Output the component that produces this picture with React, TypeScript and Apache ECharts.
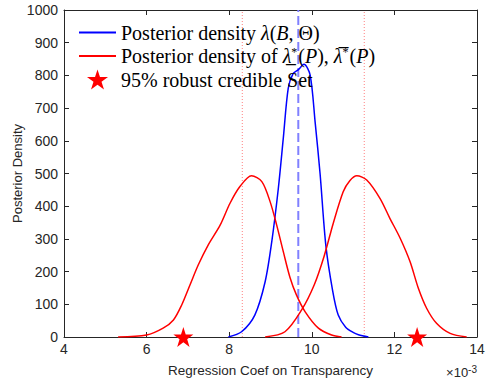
import React, { useEffect, useRef } from "react";
import * as echarts from "echarts";

const blueName = "Posterior density λ(B, Θ)";
const redName = "Posterior density of λ*(P), λ*(P)";
const starName = "95% robust credible Set";

const xBlue = [7.98, 8.3, 8.62, 8.87, 9.03, 9.19, 9.31, 9.43, 9.55, 9.67, 9.81, 9.96, 10.08, 10.2, 10.34, 10.5, 10.64, 10.82, 11.0, 11.13, 11.37];
const yBlue = [0, 16, 67, 169, 291, 455, 608, 761, 806, 817, 834, 801, 658, 500, 280, 145, 67, 30, 14, 7, 0];

const xLeft = [5.31, 6.0, 6.4, 6.65, 6.85, 7.05, 7.25, 7.49, 7.78, 8.02, 8.26, 8.54, 8.79, 8.99, 9.15, 9.31, 9.47, 9.63, 9.84, 10.16, 10.48, 10.72];
const yLeft = [0, 6, 27, 52, 98, 159, 220, 281, 342, 409, 460, 493, 475, 414, 342, 261, 183, 128, 77, 27, 6, 0];

const xRight = [8.87, 9.35, 9.75, 10.06, 10.3, 10.52, 10.76, 10.92, 11.09, 11.33, 11.65, 11.89, 12.14, 12.38, 12.58, 12.78, 13.02, 13.35, 13.75];
const yRight = [0, 16, 82, 160, 248, 348, 444, 478, 493, 480, 424, 363, 302, 230, 149, 88, 42, 11, 0];

const starX = [6.89, 12.55];
const starY = [0, 0];

const meanLine = 9.673;
const boundLines = [8.317, 11.27];

const STAR = "path://M50,0 L61.8,36.2 L100,36.2 L69.1,58.6 L80.9,95.1 L50,72.7 L19.1,95.1 L30.9,58.6 L0,36.2 L38.2,36.2 Z";

const zip = (xs: number[], ys: number[]) => xs.map((x, i) => [x, ys[i]]);

export default function App() {
  const ref = useRef<HTMLDivElement>(null);
  useEffect(() => {
    if (!ref.current) return;
    const chart = echarts.init(ref.current, undefined, { renderer: "svg" });
    const axisColor = "#262626";
    const lineStyleBase = { width: 1.5 };
    const vline = (x: number, color: string, type: any, width: number) => ({
      type: "line",
      name: "ref" + x,
      data: [[x, 0], [x, 1000]],
      symbol: "none",
      silent: true,
      lineStyle: { color, type, width },
      z: 1,
    });
    const serif = "Liberation Serif";
    const fs = 20;
    chart.setOption({
      animation: false,
      grid: { left: 64, right: 15, top: 10, bottom: 46, outerBoundsMode: "none", containLabel: false },
      legend: {
        data: [
          { name: blueName, itemStyle: { opacity: 0 } },
          { name: redName, itemStyle: { opacity: 0 } },
          { name: starName, itemStyle: { opacity: 1 } },
        ],
        orient: "vertical",
        left: 78,
        top: 22.5,
        padding: 0,
        itemWidth: 37,
        itemHeight: 20,
        itemGap: 3.5,
        textStyle: {
          fontFamily: serif,
          fontSize: fs,
          color: "#000",
          lineHeight: 20,
          rich: {
            n: { fontFamily: serif, fontSize: fs, color: "#000", lineHeight: 20 },
            i: { fontFamily: serif, fontSize: fs, fontStyle: "italic", color: "#000", lineHeight: 20 },
            s: { fontFamily: serif, fontSize: 12, color: "#000", verticalAlign: "top", lineHeight: 20, padding: [0, 1, 6, 0] },
          },
        },
        formatter: (name: string) => {
          if (name === blueName) return "{n|Posterior density }{i|λ}{n|(}{i|B}{n|, Θ)}";
          if (name === redName)
            return "{n|Posterior density of }{i|λ\u0332}{s|*}{n|(}{i|P}{n|), }{i|λ\u0305}{s|*}{n|(}{i|P}{n|)}";
          return "{n|" + name + "}";
        },
      },
      xAxis: [
        {
          type: "value",
          min: 4,
          max: 14,
          interval: 2,
          name: "Regression Coef on Transparency",
          nameLocation: "middle",
          nameGap: 26,
          nameMoveOverlap: false,
          nameTextStyle: { fontFamily: "Liberation Sans", fontSize: 13.5, color: axisColor },
          axisLine: { show: true, onZero: false, lineStyle: { color: axisColor, width: 1 } },
          axisTick: { show: true, inside: true, length: 5, lineStyle: { color: axisColor } },
          axisLabel: { fontFamily: "Liberation Sans", fontSize: 14, color: axisColor, margin: 5, formatter: (v: number) => String(v) },
          splitLine: { show: false },
        },
        {
          type: "value",
          position: "top",
          min: 4,
          max: 14,
          interval: 2,
          axisLine: { show: true, onZero: false, lineStyle: { color: axisColor, width: 1 } },
          axisTick: { show: true, inside: true, length: 5, lineStyle: { color: axisColor } },
          axisLabel: { show: false },
          splitLine: { show: false },
        },
      ],
      yAxis: [
        {
          type: "value",
          min: 0,
          max: 1000,
          interval: 100,
          name: "Posterior Density",
          nameLocation: "middle",
          nameGap: 40,
          nameMoveOverlap: false,
          nameTextStyle: { fontFamily: "Liberation Sans", fontSize: 13, color: axisColor },
          axisLine: { show: true, onZero: false, lineStyle: { color: axisColor, width: 1 } },
          axisTick: { show: true, inside: true, length: 5, lineStyle: { color: axisColor } },
          axisLabel: { fontFamily: "Liberation Sans", fontSize: 14, color: axisColor, margin: 6, formatter: (v: number) => String(v) },
          splitLine: { show: false },
        },
        {
          type: "value",
          position: "right",
          min: 0,
          max: 1000,
          interval: 100,
          axisLine: { show: true, onZero: false, lineStyle: { color: axisColor, width: 1 } },
          axisTick: { show: true, inside: true, length: 5, lineStyle: { color: axisColor } },
          axisLabel: { show: false },
          splitLine: { show: false },
        },
      ],
      graphic: [
        {
          type: "text",
          right: 15,
          top: 364,
          style: {
            text: "×10{s|-3}",
            fontFamily: "Liberation Sans",
            fontSize: 13,
            fill: axisColor,
            rich: { s: { fontSize: 10, fill: axisColor, verticalAlign: "top", padding: [0, 0, 6, 0] } },
          },
        },
      ],
      series: [
        vline(boundLines[0], "#ff8080", [1, 2], 1),
        vline(boundLines[1], "#ff8080", [1, 2], 1),
        vline(meanLine, "#8080ff", [9, 4], 2),
        {
          type: "line",
          name: blueName,
          data: zip(xBlue, yBlue),
          symbol: "none",
          smooth: 0.3,
          lineStyle: { ...lineStyleBase, color: "#0000ff" },
          itemStyle: { color: "#0000ff" },
          z: 3,
        },
        {
          type: "line",
          name: redName,
          data: zip(xLeft, yLeft),
          symbol: "none",
          smooth: 0.3,
          lineStyle: { ...lineStyleBase, color: "#ff0000" },
          itemStyle: { color: "#ff0000" },
          z: 3,
        },
        {
          type: "line",
          name: redName,
          data: zip(xRight, yRight),
          symbol: "none",
          smooth: 0.3,
          lineStyle: { ...lineStyleBase, color: "#ff0000" },
          itemStyle: { color: "#ff0000" },
          z: 3,
        },
        {
          type: "scatter",
          name: starName,
          data: zip(starX, starY),
          symbol: STAR,
          symbolSize: 20,
          itemStyle: { color: "#ff0000", opacity: 1 },
          clip: false,
          z: 4,
        },
      ],
    });
    return () => chart.dispose();
  }, []);
  return <div ref={ref} style={{ width: 492, height: 383, position: "absolute", left: 0, top: 0 }} />;
}
